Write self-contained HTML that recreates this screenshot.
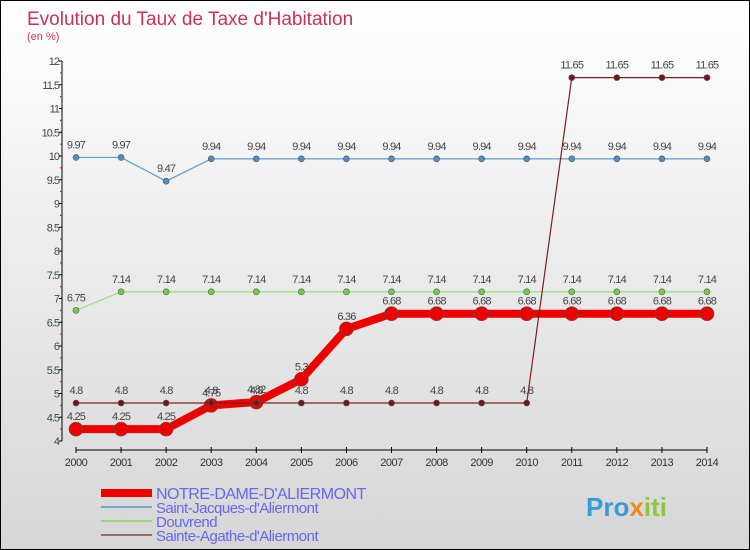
<!DOCTYPE html>
<html><head><meta charset="utf-8"><style>
body{margin:0}
#c{width:750px;height:550px;position:relative;box-sizing:border-box;border:1px solid #000;background:linear-gradient(#fff,#d6d6d6);font-family:"Liberation Sans",sans-serif;overflow:hidden}
svg text{font-family:"Liberation Sans",sans-serif}
</style></head><body>
<div id="c">
<svg id="s" width="750" height="550">
<text x="26" y="24" font-size="19" fill="#c8325a">Evolution du Taux de Taxe d'Habitation</text>
<text x="26" y="39" font-size="11" fill="#c8325a">(en %)</text>
<text x="585" y="515" font-size="26" font-weight="bold" fill="#3a9ad9">Pro<tspan fill="#f08a1c">x</tspan><tspan fill="#8cc63f">iti</tspan></text>
</svg>
</div>
<script>
const years=[2000,2001,2002,2003,2004,2005,2006,2007,2008,2009,2010,2011,2012,2013,2014];
const yTicks=[4,4.5,5,5.5,6,6.5,7,7.5,8,8.5,9,9.5,10,10.5,11,11.5,12];
const nameSeries=["NOTRE-DAME-D'ALIERMONT","Saint-Jacques-d'Aliermont","Douvrend","Sainte-Agathe-d'Aliermont"];
const notreDame=[4.25,4.25,4.25,4.75,4.82,5.3,6.36,6.68,6.68,6.68,6.68,6.68,6.68,6.68,6.68];
const saintJacques=[9.97,9.97,9.47,9.94,9.94,9.94,9.94,9.94,9.94,9.94,9.94,9.94,9.94,9.94,9.94];
const douvrend=[6.75,7.14,7.14,7.14,7.14,7.14,7.14,7.14,7.14,7.14,7.14,7.14,7.14,7.14,7.14];
const sainteAgathe=[4.8,4.8,4.8,4.8,4.8,4.8,4.8,4.8,4.8,4.8,4.8,11.65,11.65,11.65,11.65];
const svg=document.getElementById('s');const NS='http://www.w3.org/2000/svg';
const xS=i=>75+i*(706-75)/(years.length-1);
const yS=v=>440-(v-4)*47.5;
function mk(t,a){const e=document.createElementNS(NS,t);for(const k in a)e.setAttribute(k,a[k]);svg.appendChild(e);return e;}
let ax=mk('line',{x1:61,y1:yS(12),x2:61,y2:yS(4),stroke:'#000'});


yTicks.forEach(v=>{
 const t=mk('text',{x:58,y:yS(v)+4,'font-size':11,fill:'#444','text-anchor':'end','letter-spacing':'-1'});t.textContent=String(v);
 
 
 mk('line',{x1:58,x2:61,y1:yS(v),y2:yS(v),stroke:'#000'});
 if(v<12) mk('line',{x1:59,x2:61,y1:yS(v+0.25),y2:yS(v+0.25),stroke:'#f00'});
});
let xa=mk('line',{x1:75,y1:449,x2:706,y2:449,stroke:'#000'});


years.forEach((y,i)=>{
 mk('line',{x1:xS(i),x2:xS(i),y1:446,y2:452,stroke:'#000'});
 const t=mk('text',{x:xS(i),y:465,'font-size':11,fill:'#333','text-anchor':'middle','letter-spacing':'-0.5'});t.textContent=y;
 
 
});
function series(vals,color,w,r,dot,name){
 const p=mk('polyline',{points:vals.map((v,i)=>xS(i)+','+yS(v)).join(' '),fill:'none',stroke:color,'stroke-width':w,'stroke-linejoin':'round'});
 
 
 vals.forEach((v,i)=>{
  const c=mk('circle',{cx:xS(i),cy:yS(v),r:r,fill:dot,stroke:'#555','stroke-width':0.6});
  
  
  const t=mk('text',{x:xS(i),y:yS(v)-9,'font-size':11,fill:'#444','text-anchor':'middle','letter-spacing':'-0.8'});t.textContent=String(v);
  
  
 });
}
series(saintJacques,'#5a9fd4',1.2,3,'#4a8fc8','saint-jacques');
series(douvrend,'#99dd77',1.2,3,'#77cc44','douvrend');
series(notreDame,'#ee0000',8,7,'#ee0000','notre-dame');
series(sainteAgathe,'#7a2020',1.2,3,'#6a1a1a','sainte-agathe');
const lc=['#ee0000','#6fa8d0','#99dd77','#9a6a6a'],lw=[8,2,2,2],ly=[492,506,520,534];
nameSeries.forEach((n,i)=>{
 const l=mk('line',{x1:100,x2:151,y1:ly[i],y2:ly[i],stroke:lc[i],'stroke-width':lw[i]});
 
 
 const t=mk('text',{x:155,y:ly[i]+6,'font-size':i==0?16:15,fill:'#6666ee','letter-spacing':'-0.5'});t.textContent=n;
 
 
});
</script>
</body></html>
